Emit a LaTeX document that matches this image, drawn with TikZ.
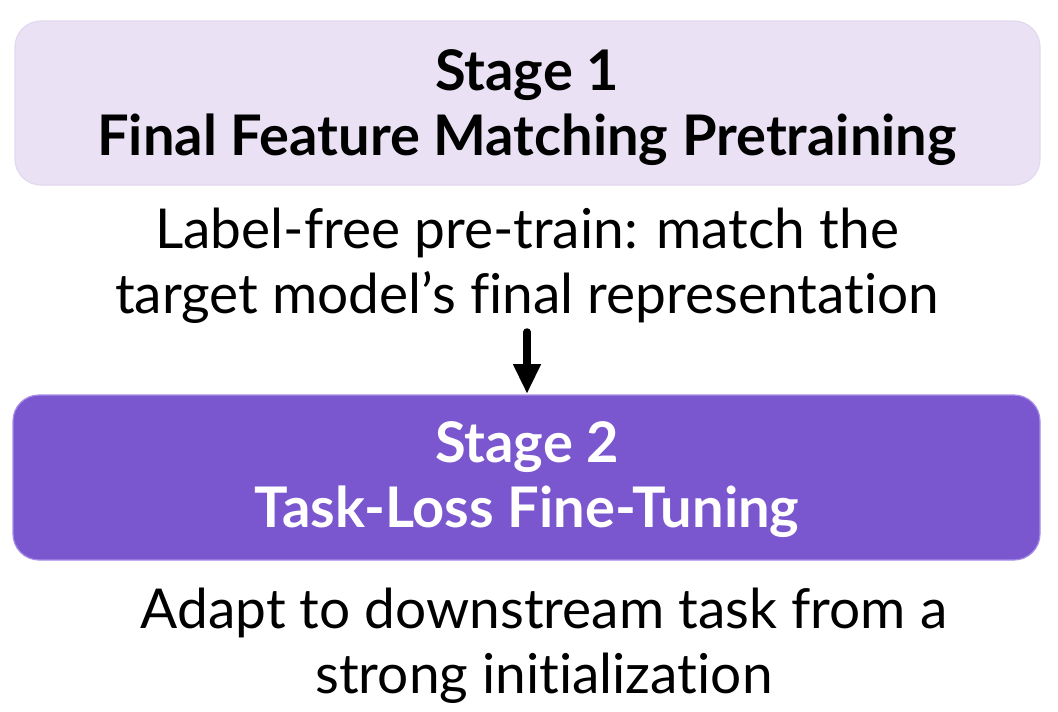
\documentclass[tikz,border=0pt]{standalone}
\usepackage{fontspec}
\setmainfont[Ligatures={NoCommon}]{Lato}
\usetikzlibrary{arrows.meta}
\definecolor{lilac}{HTML}{EAE2F4}
\definecolor{lilacedge}{HTML}{E2D8F0}
\definecolor{purp}{HTML}{7B57CF}
\definecolor{purpedge}{HTML}{A88EE8}
\tikzset{
  stagebox/.style={rounded corners=26pt, line width=1.2pt},
  boxtext/.style={align=center, font=\fontsize{56}{65}\selectfont\bfseries},
  desc/.style={align=center, font=\fontsize{55}{65}\selectfont},
}
\begin{document}
\begin{tikzpicture}[x=1pt,y=-1pt]
\useasboundingbox (0,0) rectangle (1058,712);
\draw[stagebox, fill=lilac, draw=lilacedge] (15,21) rectangle (1040,185);
\draw[stagebox, fill=purp, draw=purpedge] (13,395) rectangle (1040,560);
\node[boxtext] (s1) at (527,108) {Stage 1\\Final Feature Matching Pretraining};
\node[desc] (d1) at (527,266) {Label-free pre-train: match the\\target model’s final representation};
\node[boxtext, text=white] (s2) at (527,480) {Stage 2\\Task-Loss Fine-Tuning};
\node[desc] (d2) at (544,646) {Adapt to downstream task from a\\strong initialization};
\coordinate (a0) at (527,332);
\coordinate (a1) at (527,394);
\draw[line width=7.5pt, line cap=round, -{Triangle[width=26pt,length=30pt]}] (a0) -- (a1);
\end{tikzpicture}
\end{document}
